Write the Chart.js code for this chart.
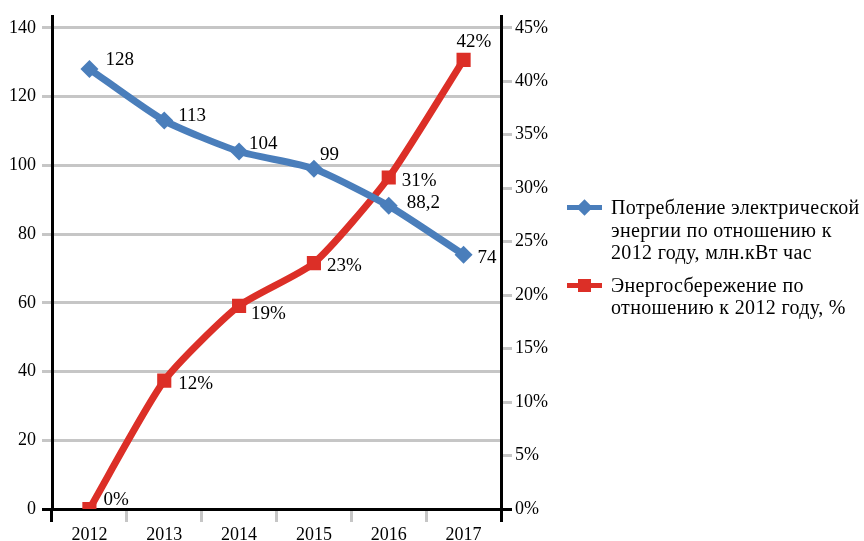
<!DOCTYPE html>
<html lang="ru">
<head>
  <meta charset="UTF-8" />
  <title>Энергопотребление и энергосбережение</title>
  <script src="https://cdn.jsdelivr.net/npm/chart.js@4.4.1/dist/chart.umd.min.js"></script>
  <style>
    html, body { margin: 0; padding: 0; background: #fff; }
    #wrap { position: relative; width: 864px; height: 541px; overflow: hidden; }
    #legend {
      position: absolute; left: 567px; top: 196px;
      font-family: 'Liberation Serif', 'Times New Roman', serif;
      font-size: 20px; letter-spacing: 0.35px; line-height: 22.5px; color: #000;
    }
    .item { display: flex; align-items: flex-start; margin-bottom: 10px; }
    .mark { position: relative; width: 35px; height: 22.5px; margin-right: 9px; flex: none; }
    .mark .ln { position: absolute; left: 0; right: 0; top: 9px; height: 5px; }
    .mark .pt { position: absolute; left: 11px; top: 5px; width: 13px; height: 13px; }
    .txt { white-space: pre-line; }
  </style>
</head>
<body>
<div id="wrap">
  <canvas id="chart" width="864" height="541"></canvas>
  <div id="legend"></div>
</div>

<script>
  // данные
  const years = ['2012', '2013', '2014', '2015', '2016', '2017'];
  const consumption = [128, 113, 104, 99, 88.2, 74];   // млн.кВт час
  const saving = [0, 12, 19, 23, 31, 42];              // %
  const seriesNames = [
    'Потребление электрической\nэнергии по отношению к\n2012 году, млн.кВт час',
    'Энергосбережение по\nотношению к 2012 году, %'
  ];
  const leftTicks = [0, 20, 40, 60, 80, 100, 120, 140];
  const rightTicks = [0, 5, 10, 15, 20, 25, 30, 35, 40, 45];

  const BLUE = '#4a7ebb';
  const RED = '#dc2f27';
  const GRID = '#c6c6c6';
  const FONT = "'Liberation Serif', 'Times New Roman', serif";

  // смещения подписей относительно точки (текст слева, центр по вертикали)
  const blueLabelOffsets = [[16, -9], [14, -5], [10, -8], [6, -14], [18, -3], [14, 3]];
  const redLabelOffsets = [[14, -9], [14, 3], [12, 8], [13, 3], [13, 3], [-7, -18]];

  const pointLabels = {
    id: 'pointLabels',
    afterDatasetsDraw(chart) {
      const ctx = chart.ctx;
      ctx.save();
      ctx.font = '19px ' + FONT;
      ctx.fillStyle = '#000';
      ctx.textAlign = 'left';
      ctx.textBaseline = 'middle';
      chart.data.datasets.forEach((ds, di) => {
        const meta = chart.getDatasetMeta(di);
        meta.data.forEach((pt, i) => {
          const off = ds.labelOffsets[i];
          ctx.fillText(ds.labelText(ds.data[i]), pt.x + off[0], pt.y + off[1]);
        });
      });
      ctx.restore();
    }
  };

  const onlyTicks = list => scale => {
    scale.ticks = list.map(v => ({ value: v }));
  };

  const chart = new Chart(document.getElementById('chart'), {
    type: 'line',
    data: {
      labels: years,
      datasets: [
        {
          label: seriesNames[0],
          data: consumption,
          yAxisID: 'y',
          borderColor: BLUE,
          backgroundColor: BLUE,
          borderWidth: 7,
          pointStyle: 'rectRot',
          pointRadius: 9,
          pointBorderWidth: 0,
          tension: 0.2,
          labelOffsets: blueLabelOffsets,
          labelText: v => String(v).replace('.', ',')
        },
        {
          label: seriesNames[1],
          data: saving,
          yAxisID: 'y1',
          borderColor: RED,
          backgroundColor: RED,
          borderWidth: 7,
          pointStyle: 'rect',
          pointRadius: 10,
          pointBorderWidth: 0,
          tension: 0.2,
          labelOffsets: redLabelOffsets,
          labelText: v => v + '%'
        }
      ]
    },
    options: {
      responsive: false,
      animation: false,
      layout: { padding: { top: 15, right: 303, left: 0, bottom: 0 } },
      plugins: {
        legend: { display: false },
        tooltip: { enabled: false }
      },
      scales: {
        x: {
          type: 'category',
          offset: true,
          grid: {
            offset: true,
            drawOnChartArea: false,
            tickLength: 13,
            lineWidth: 3,
            color: c => (c.type !== 'tick' || c.index === 0) ? '#000' : GRID
          },
          border: { color: '#000', width: 3 },
          ticks: { color: '#000', padding: 2, font: { family: FONT, size: 18 } },
          afterFit: s => { s.height = 32; }
        },
        y: {
          position: 'left',
          min: 0,
          max: 143.2,
          afterBuildTicks: onlyTicks(leftTicks),
          grid: {
            tickLength: 10,
            lineWidth: 3,
            color: c => (c.tick && c.tick.value === 0) ? '#000' : GRID
          },
          border: { color: '#000', width: 3 },
          ticks: { color: '#000', padding: 6, font: { family: FONT, size: 18 } },
          afterFit: s => { s.width = 52; }
        },
        y1: {
          position: 'right',
          min: 0,
          max: 46.03,
          afterBuildTicks: onlyTicks(rightTicks),
          grid: {
            drawOnChartArea: false,
            tickLength: 11,
            lineWidth: 3,
            color: c => (c.tick && c.tick.value === 0) ? '#000' : GRID
          },
          border: { color: '#000', width: 3 },
          ticks: {
            color: '#000', padding: 3,
            font: { family: FONT, size: 18 },
            callback: v => v + '%'
          },
          afterFit: s => { s.width = 60; }
        }
      }
    },
    plugins: [pointLabels]
  });

  // легенда справа
  const legend = document.getElementById('legend');
  chart.data.datasets.forEach(ds => {
    const item = document.createElement('div');
    item.className = 'item';
    const mark = document.createElement('div');
    mark.className = 'mark';
    const ln = document.createElement('div');
    ln.className = 'ln';
    ln.style.background = ds.borderColor;
    const pt = document.createElement('div');
    pt.className = 'pt';
    pt.style.background = ds.borderColor;
    if (ds.pointStyle === 'rectRot') pt.style.transform = 'rotate(45deg) scale(0.9)';
    mark.appendChild(ln);
    mark.appendChild(pt);
    const txt = document.createElement('div');
    txt.className = 'txt';
    txt.textContent = ds.label;
    item.appendChild(mark);
    item.appendChild(txt);
    legend.appendChild(item);
  });
</script>
</body>
</html>
